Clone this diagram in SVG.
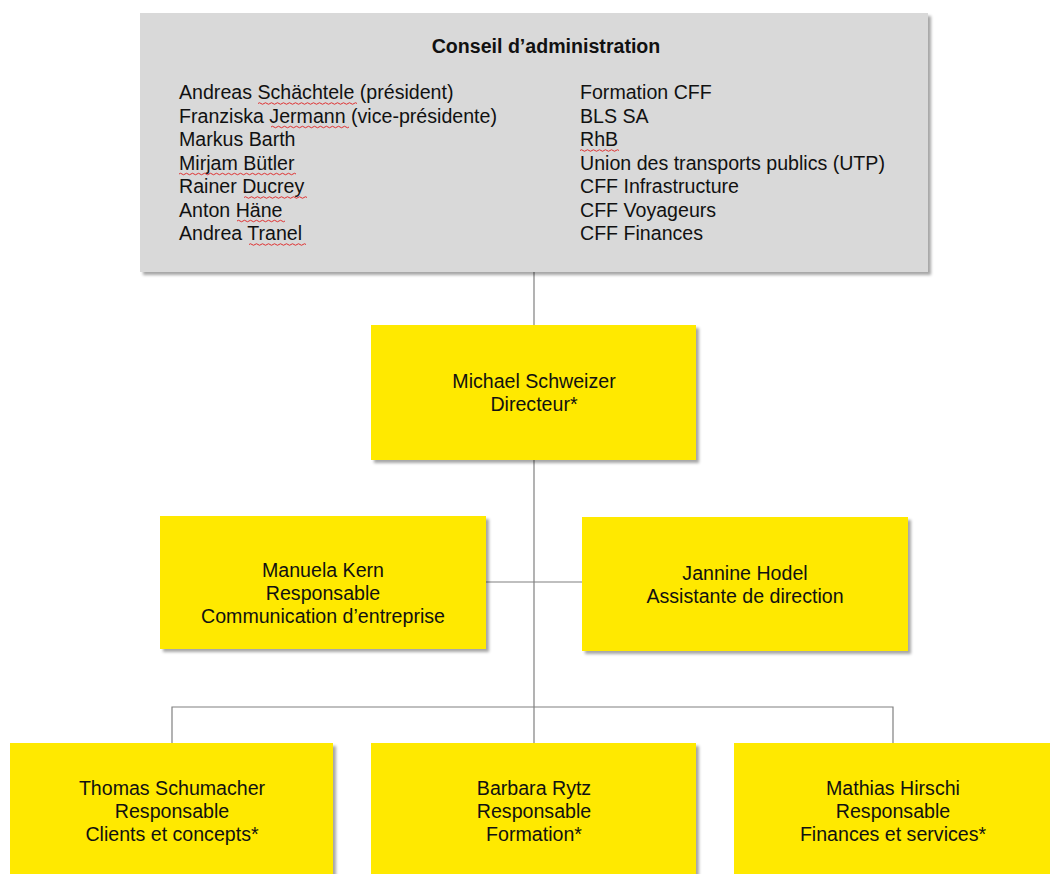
<svg xmlns="http://www.w3.org/2000/svg" width="1050" height="874" viewBox="0 0 1050 874">
<style>
.t{font-family:"Liberation Sans",Arial,sans-serif;font-size:19.6px;fill:#111}
.c{text-anchor:middle}
.b{font-weight:bold}
.y{fill:#FFE900}
.g{fill:#D9D9D9}
.ln{stroke:#808080;stroke-width:1.2;fill:none}
.sq{stroke:#E02020;stroke-width:0.9;fill:none}
</style>
<defs>
<filter id="sh" x="-5%" y="-5%" width="115%" height="115%">
<feDropShadow dx="3" dy="3" stdDeviation="1.6" flood-color="#000" flood-opacity="0.35"/>
</filter>
</defs>
<rect width="1050" height="874" fill="#fff"/>
<g id="connectors">
<path class="ln" d="M534 272V325M534 460V743M486 582H582M172 743V707H893V743"/>
</g>
<g id="board">
<rect class="g" x="140" y="13" width="788" height="259" filter="url(#sh)"/>
<text class="t b c" x="546" y="53">Conseil d’administration</text>
<text class="t" x="179" y="99">Andreas Schächtele (président)</text>
<text class="t" x="179" y="122.5">Franziska Jermann (vice-présidente)</text>
<text class="t" x="179" y="146">Markus Barth</text>
<text class="t" x="179" y="169.5">Mirjam Bütler</text>
<text class="t" x="179" y="193">Rainer Ducrey</text>
<text class="t" x="179" y="216.5">Anton Häne</text>
<text class="t" x="179" y="240">Andrea Tranel</text>
<text class="t" x="580" y="99">Formation CFF</text>
<text class="t" x="580" y="122.5">BLS SA</text>
<text class="t" x="580" y="146">RhB</text>
<text class="t" x="580" y="169.5">Union des transports publics (UTP)</text>
<text class="t" x="580" y="193">CFF Infrastructure</text>
<text class="t" x="580" y="216.5">CFF Voyageurs</text>
<text class="t" x="580" y="240">CFF Finances</text>
<path class="sq" d="M258 103.5q1.5 -1.5 3 0t3 0t3 0t3 0t3 0t3 0t3 0t3 0t3 0t3 0t3 0t3 0t3 0t3 0t3 0t3 0t3 0t3 0t3 0t3 0t3 0t3 0t3 0t3 0t3 0t3 0t3 0t3 0t3 0t3 0t3 0t3 0t3 0"/>
<path class="sq" d="M271 127q1.5 -1.5 3 0t3 0t3 0t3 0t3 0t3 0t3 0t3 0t3 0t3 0t3 0t3 0t3 0t3 0t3 0t3 0t3 0t3 0t3 0t3 0t3 0t3 0t3 0t3 0t3 0t3 0"/>
<path class="sq" d="M179 174q1.5 -1.5 3 0t3 0t3 0t3 0t3 0t3 0t3 0t3 0t3 0t3 0t3 0t3 0t3 0t3 0t3 0t3 0t3 0t3 0t3 0t3 0t3 0t3 0t3 0t3 0t3 0t3 0t3 0t3 0t3 0t3 0t3 0t3 0t3 0t3 0t3 0t3 0t3 0t3 0t3 0"/>
<path class="sq" d="M244 197.5q1.5 -1.5 3 0t3 0t3 0t3 0t3 0t3 0t3 0t3 0t3 0t3 0t3 0t3 0t3 0t3 0t3 0t3 0t3 0t3 0t3 0t3 0t3 0"/>
<path class="sq" d="M237 221q1.5 -1.5 3 0t3 0t3 0t3 0t3 0t3 0t3 0t3 0t3 0t3 0t3 0t3 0t3 0t3 0t3 0t3 0"/>
<path class="sq" d="M249 244.5q1.5 -1.5 3 0t3 0t3 0t3 0t3 0t3 0t3 0t3 0t3 0t3 0t3 0t3 0t3 0t3 0t3 0t3 0t3 0t3 0t3 0"/>
<path class="sq" d="M580 150.5q1.5 -1.5 3 0t3 0t3 0t3 0t3 0t3 0t3 0t3 0t3 0t3 0t3 0t3 0t3 0"/>
</g>
<g id="director">
<rect class="y" x="371" y="325" width="325" height="135" filter="url(#sh)"/>
<text class="t c" x="534" y="388">Michael Schweizer</text>
<text class="t c" x="534" y="411">Directeur*</text>
</g>
<g id="kern">
<rect class="y" x="160" y="516" width="326" height="133" filter="url(#sh)"/>
<text class="t c" x="323" y="577">Manuela Kern</text>
<text class="t c" x="323" y="600">Responsable</text>
<text class="t c" x="323" y="623">Communication d’entreprise</text>
</g>
<g id="hodel">
<rect class="y" x="582" y="517" width="326" height="134" filter="url(#sh)"/>
<text class="t c" x="745" y="580">Jannine Hodel</text>
<text class="t c" x="745" y="603">Assistante de direction</text>
</g>
<g id="schumacher">
<rect class="y" x="10" y="743" width="323" height="140" filter="url(#sh)"/>
<text class="t c" x="172" y="795">Thomas Schumacher</text>
<text class="t c" x="172" y="818">Responsable</text>
<text class="t c" x="172" y="841">Clients et concepts*</text>
</g>
<g id="rytz">
<rect class="y" x="371" y="743" width="325" height="140" filter="url(#sh)"/>
<text class="t c" x="534" y="795">Barbara Rytz</text>
<text class="t c" x="534" y="818">Responsable</text>
<text class="t c" x="534" y="841">Formation*</text>
</g>
<g id="hirschi">
<rect class="y" x="734" y="743" width="330" height="140" filter="url(#sh)"/>
<text class="t c" x="893" y="795">Mathias Hirschi</text>
<text class="t c" x="893" y="818">Responsable</text>
<text class="t c" x="893" y="841">Finances et services*</text>
</g>
</svg>
